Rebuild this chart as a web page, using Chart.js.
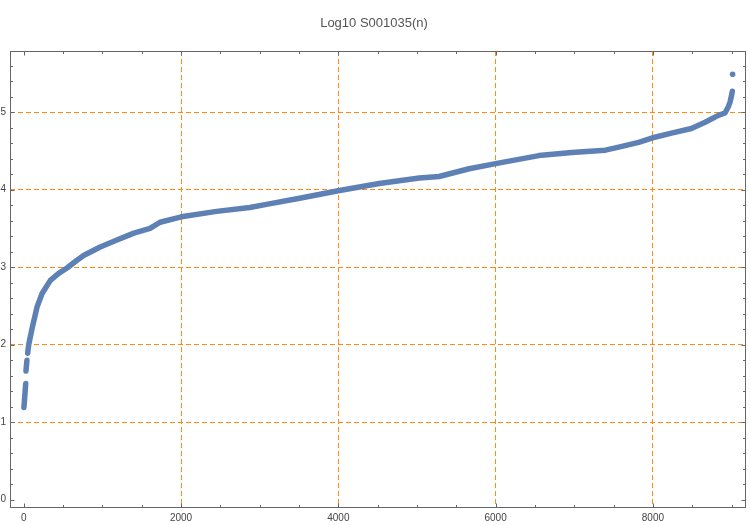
<!DOCTYPE html>
<html>
<head>
<meta charset="utf-8">
<title>Log10 S001035(n)</title>
<script src="https://cdn.jsdelivr.net/npm/chart.js@4"></script>
<style>
  html, body { margin: 0; padding: 0; background: #fff; }
  canvas { display: block; }
</style>
</head>
<body>
<canvas id="chart" width="750" height="525"></canvas>
<script>
// values (null = visible gap between point clusters)
const seqN = [2, 25, 26, 28, 40, 45, 50, 63, 106, 170, 233, 338, 444, 550, 677, 761, 972, 1184, 1400, 1606, 1733,
  2003, 2452, 2874, 3086, 3508, 4015, 4520, 5030, 5281, 5663, 6017, 6550, 6969, 7396, 7565, 7819, 7996,
  8237, 8490, 8664, 8832, 8917, 8959, 8981, 9001, 9010];
const seqLog = [1.19, 1.50, null, 1.66, 1.80, null, 1.89, 2.00, 2.21, 2.49, 2.66, 2.83, 2.92, 2.99, 3.09, 3.15, 3.26, 3.35, 3.44, 3.50, 3.58,
  3.65, 3.72, 3.77, 3.81, 3.89, 3.99, 4.08, 4.15, 4.17, 4.27, 4.34, 4.44, 4.48, 4.51, 4.55, 4.61, 4.67,
  4.73, 4.79, 4.87, 4.96, 4.99, 5.07, 5.13, 5.22, 5.27];
const outlierN = [9014];
const outlierLog = [5.49];

const xTicks = [0, 2000, 4000, 6000, 8000];
const yTicks = [0, 1, 2, 3, 4, 5];
const xMinor = [0, 500, 1000, 1500, 2000, 2500, 3000, 3500, 4000, 4500, 5000, 5500, 6000, 6500, 7000, 7500, 8000, 8500, 9000];
const yMinor = [0, 0.2, 0.4, 0.6, 0.8, 1, 1.2, 1.4, 1.6, 1.8, 2, 2.2, 2.4, 2.6, 2.8, 3, 3.2, 3.4, 3.6, 3.8, 4, 4.2, 4.4, 4.6, 4.8, 5, 5.2, 5.4, 5.6];

const blue = '#5e81b5';
const orange = '#ff8a14';
const frameColor = '#666';
const fontFamily = '"Liberation Sans", Arial, sans-serif';

// Mathematica-style frame with inward ticks on all four sides
const frameTicks = {
  id: 'frameTicks',
  afterDraw(chart) {
    const { ctx, chartArea: a, scales: { x, y } } = chart;
    ctx.save();
    ctx.strokeStyle = frameColor;
    ctx.lineWidth = 1;
    ctx.strokeRect(Math.round(a.left) + 0.5, Math.round(a.top) + 0.5,
      Math.round(a.right - a.left) - 1, Math.round(a.bottom - a.top) - 1);
    ctx.beginPath();
    xMinor.forEach(v => {
      const px = Math.round(x.getPixelForValue(v)) + 0.5;
      const len = xTicks.includes(v) ? 4.5 : 3;
      ctx.moveTo(px, a.bottom); ctx.lineTo(px, a.bottom - len);
      ctx.moveTo(px, a.top); ctx.lineTo(px, a.top + len);
    });
    yMinor.forEach(v => {
      const py = Math.round(y.getPixelForValue(v)) + 0.5;
      const len = yTicks.includes(v) ? 4.5 : 3;
      ctx.moveTo(a.left, py); ctx.lineTo(a.left + len, py);
      ctx.moveTo(a.right, py); ctx.lineTo(a.right - len, py);
    });
    ctx.stroke();
    ctx.restore();
  }
};

const gridColor = c => (c.tick && c.tick.value === 0) ? 'rgba(0,0,0,0)' : orange;

new Chart(document.getElementById('chart'), {
  type: 'scatter',
  data: {
    datasets: [{
      data: seqN.map((n, i) => ({ x: n, y: seqLog[i] })),
      showLine: true,
      spanGaps: false,
      borderColor: blue,
      backgroundColor: blue,
      borderWidth: 5.5,
      borderCapStyle: 'round',
      borderJoinStyle: 'round',
      pointRadius: 0,
      tension: 0
    }, {
      data: outlierN.map((n, i) => ({ x: n, y: outlierLog[i] })),
      borderColor: blue,
      backgroundColor: blue,
      pointRadius: 2.8,
      borderWidth: 0
    }]
  },
  options: {
    responsive: false,
    animation: false,
    devicePixelRatio: 1,
    layout: { padding: { top: 0, right: 2, bottom: 0, left: 0 } },
    plugins: {
      legend: { display: false },
      tooltip: { enabled: false },
      title: {
        display: true,
        text: 'Log10 S001035(n)',
        color: '#555',
        font: { family: fontFamily, size: 13, weight: 'normal' },
        padding: { top: 16, bottom: 19.4 }
      }
    },
    scales: {
      x: {
        type: 'linear',
        min: -175,
        max: 9184,
        afterBuildTicks: s => { s.ticks = xTicks.map(v => ({ value: v })); },
        afterFit: s => { s.height = 17; },
        grid: { color: gridColor, lineWidth: 1, drawTicks: false },
        border: { display: false, dash: [5, 3] },
        ticks: {
          color: '#444',
          padding: 4,
          maxRotation: 0,
          callback: v => String(v),
          font: { family: fontFamily, size: 10 }
        }
      },
      y: {
        type: 'linear',
        min: -0.108,
        max: 5.79,
        afterBuildTicks: s => { s.ticks = yTicks.map(v => ({ value: v })); },
        afterFit: s => { s.width = 10; },
        grid: { color: gridColor, lineWidth: 1, drawTicks: false },
        border: { display: false, dash: [5, 3] },
        ticks: {
          color: '#444',
          padding: 4,
          callback: v => String(v),
          font: { family: fontFamily, size: 10 }
        }
      }
    }
  },
  plugins: [frameTicks]
});
</script>
</body>
</html>
